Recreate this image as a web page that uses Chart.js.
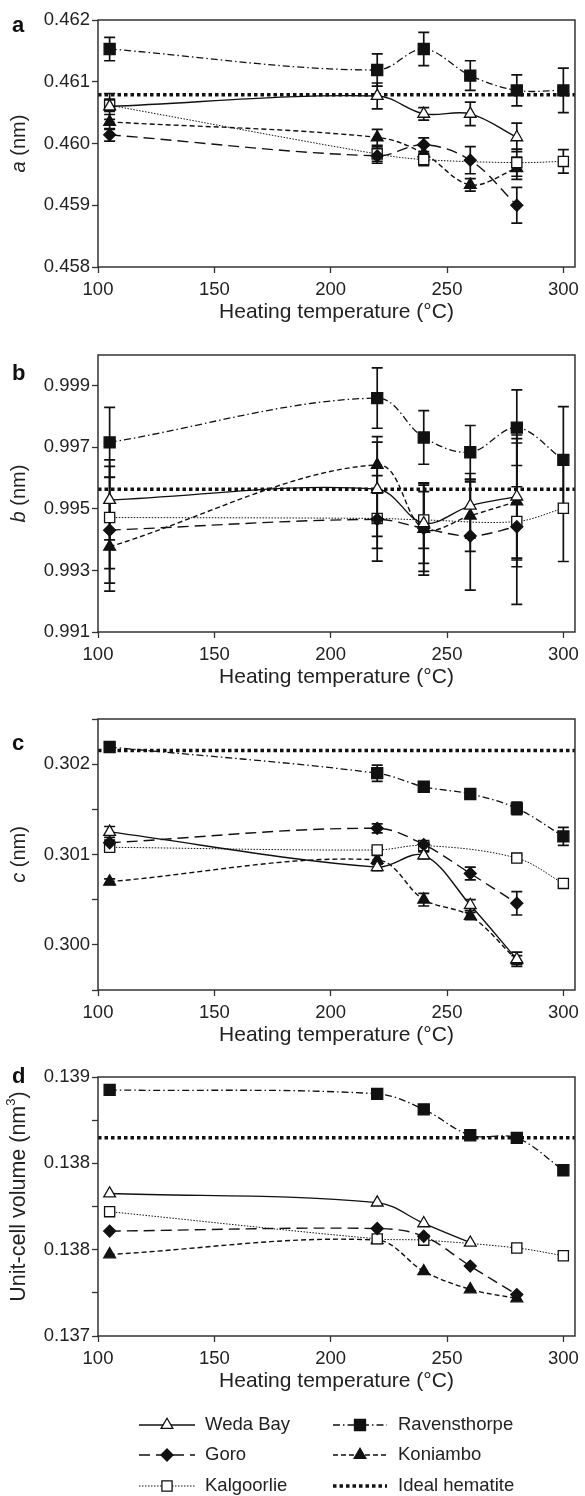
<!DOCTYPE html>
<html>
<head>
<meta charset="utf-8">
<script src="https://cdn.jsdelivr.net/npm/chart.js@4.4.1/dist/chart.umd.min.js"></script>
<style>
  body { margin: 0; background: #fff; }
  #wrap { position: relative; width: 585px; height: 1496px; }
  .panel { position: absolute; left: 0; width: 585px; }
</style>
</head>
<body>
<div id="wrap">
  <div class="panel" style="top:0;height:327px"><canvas id="chartA"></canvas></div>
  <div class="panel" style="top:327px;height:365px"><canvas id="chartB"></canvas></div>
  <div class="panel" style="top:692px;height:358px"><canvas id="chartC"></canvas></div>
  <div class="panel" style="top:1050px;height:446px"><canvas id="chartD"></canvas></div>
</div>
<script>
Chart.defaults.font.family = "'Liberation Sans', Arial, sans-serif";
Chart.defaults.color = '#222';

// x values (heating temperature, °C)
const xMin = 100, xMax = 305;
const xTicks = [100, 150, 200, 250, 300];
const wedaT = [105, 220, 240, 260, 280];
const wedaTVol = [105, 220, 240, 260];
const goroT = [105, 220, 240, 260, 280];
const kalgT = [105, 220, 240, 280, 300];
const ravT = [105, 220, 240, 260, 280, 300];
const koniT = [105, 220, 240, 260, 280];

// a (nm)
const aWeda = [0.46060, 0.46077, 0.46048, 0.46048, 0.46010];
const aWedaErr = [0.00021, 0.00021, 0.00010, 0.00019, 0.00023];
const aGoro = [0.46014, 0.45980, 0.45998, 0.45973, 0.45900];
const aGoroErr = [0.00010, 0.00012, 0.00011, 0.00022, 0.00029];
const aKalg = [0.46062, 0.45983, 0.45974, 0.45969, 0.45971];
const aKalgErr = [0.00010, 0.00012, 0.00010, 0.00022, 0.00019];
const aRav = [0.46153, 0.46119, 0.46153, 0.46110, 0.46086, 0.46086];
const aRavErr = [0.00019, 0.00026, 0.00027, 0.00024, 0.00025, 0.00036];
const aKoni = [0.46035, 0.46010, 0.45984, 0.45933, 0.45960];
const aKoniErr = [0.00012, 0.00013, 0.00012, 0.00010, 0.00018];
const aIdeal = 0.46079;
const aRange = [0.458, 0.462];
const aTicks = [0.458, 0.459, 0.460, 0.461, 0.462];
const aTickLabels = ['0.458', '0.459', '0.460', '0.461', '0.462'];

// b (nm)
const bWeda = [0.99529, 0.99564, 0.99453, 0.99510, 0.99540];
const bWedaErr = [0.00130, 0.00153, 0.00130, 0.00105, 0.00200];
const bGoro = [0.99431, 0.99466, 0.99437, 0.99412, 0.99442];
const bGoroErr = [0.00172, 0.00094, 0.00140, 0.00176, 0.00130];
const bKalg = [0.99472, 0.99469, 0.99464, 0.99459, 0.99502];
const bKalgErr = [0.00166, 0.00139, 0.00092, 0.00269, 0.00173];
const bRav = [0.99716, 0.99860, 0.99732, 0.99684, 0.99764, 0.99659];
const bRavErr = [0.00114, 0.00098, 0.00087, 0.00087, 0.00123, 0.00173];
const bKoni = [0.99377, 0.99643, 0.99435, 0.99478, 0.99524];
const bKoniErr = [0.00144, 0.00092, 0.00150, 0.00116, 0.00190];
const bIdeal = 0.99564;
const bRange = [0.991, 1.000];
const bTicks = [0.991, 0.993, 0.995, 0.997, 0.999];
const bTickLabels = ['0.991', '0.993', '0.995', '0.997', '0.999'];

// c (nm)
const cWeda = [0.30125, 0.30086, 0.30099, 0.30044, 0.29984];
const cWedaErr = [0.00006, 0.00004, 0.00004, 0.00006, 0.00008];
const cGoro = [0.30113, 0.30129, 0.30111, 0.30079, 0.30046];
const cGoroErr = [0.00003, 0.00005, 0.00003, 0.00007, 0.00013];
const cKalg = [0.30108, 0.30105, 0.30110, 0.30096, 0.30068];
const cKalgErr = [0.00003, 0.00003, 0.00003, 0.00003, 0.00003];
const cRav = [0.30219, 0.30190, 0.30175, 0.30167, 0.30151, 0.30120];
const cRavErr = [0.00003, 0.00009, 0.00004, 0.00003, 0.00007, 0.00010];
const cKoni = [0.30070, 0.30094, 0.30050, 0.30032, 0.29983];
const cKoniErr = [0.00003, 0.00005, 0.00007, 0.00004, 0.00005];
const cIdeal = 0.30215;
const cRange = [0.2995, 0.3025];
const cTicks = [0.2995, 0.3000, 0.3005, 0.3010, 0.3015, 0.3020, 0.3025];
const cTickLabels = ['', '0.300', '', '0.301', '', '0.302', ''];

// unit-cell volume (nm3)
const dWeda = [0.13810, 0.13803, 0.13787, 0.13772];
const dGoro = [0.13781, 0.13783, 0.13777, 0.13754, 0.13732];
const dKalg = [0.13796, 0.13775, 0.13774, 0.13768, 0.13762];
const dRav = [0.13890, 0.13887, 0.13875, 0.13855, 0.13853, 0.13828];
const dKoni = [0.13763, 0.13774, 0.13750, 0.13736, 0.13729];
const dIdeal = 0.13853;
const dRange = [0.137, 0.139];
const dTicks = [0.137, 0.1373333, 0.1376667, 0.138, 0.1383333, 0.1386667, 0.139];
const dTickLabels = ['0.137', '', '0.138', '', '0.138', '', '0.139'];

const seriesStyle = {
  weda: { label: 'Weda Bay', dash: [], width: 1.4, pointStyle: 'triangle', radius: 6.8, fill: '#fff' },
  goro: { label: 'Goro', dash: [11, 6], width: 1.4, pointStyle: 'rectRot', radius: 6, fill: '#111' },
  kalg: { label: 'Kalgoorlie', dash: [1.5, 1.5], width: 1, pointStyle: 'rect', radius: 7.2, fill: '#fff' },
  rav: { label: 'Ravensthorpe', dash: [7, 3, 1.5, 3], width: 1.3, pointStyle: 'rect', radius: 7.8, fill: '#111' },
  koni: { label: 'Koniambo', dash: [5, 3], width: 1.4, pointStyle: 'triangle', radius: 6.8, fill: '#111' }
};

function series(key, xs, ys, errs) {
  const s = seriesStyle[key];
  return {
    label: s.label,
    data: xs.map((x, i) => ({ x: x, y: ys[i] })),
    errors: errs || null,
    borderColor: '#111',
    borderWidth: s.width,
    borderDash: s.dash,
    pointStyle: s.pointStyle,
    pointRadius: s.radius,
    pointBackgroundColor: s.fill,
    pointBorderColor: '#111',
    pointBorderWidth: 1.3,
    tension: 0.35,
    fill: false
  };
}

function ideal(y) {
  return {
    label: 'Ideal hematite',
    data: [{ x: xMin, y: y }, { x: xMax, y: y }],
    borderColor: '#111',
    borderWidth: 3.5,
    borderDash: [3.5, 3],
    pointRadius: 0,
    tension: 0,
    fill: false
  };
}

// error bars from dataset.errors, through the chart scales
const errorBars = {
  id: 'errorBars',
  beforeDatasetsDraw(chart) {
    const ctx = chart.ctx, xs = chart.scales.x, ys = chart.scales.y;
    ctx.save();
    ctx.strokeStyle = '#111';
    ctx.lineWidth = 1.7;
    chart.data.datasets.forEach(ds => {
      if (!ds.errors) return;
      ds.data.forEach((p, i) => {
        const e = ds.errors[i];
        const x = xs.getPixelForValue(p.x);
        const y1 = ys.getPixelForValue(p.y + e);
        const y2 = ys.getPixelForValue(p.y - e);
        ctx.beginPath();
        ctx.moveTo(x, y1); ctx.lineTo(x, y2);
        ctx.moveTo(x - 5.5, y1); ctx.lineTo(x + 5.5, y1);
        ctx.moveTo(x - 5.5, y2); ctx.lineTo(x + 5.5, y2);
        ctx.stroke();
      });
    });
    ctx.restore();
  }
};

// frame round the plot area
const frame = {
  id: 'frame',
  afterDatasetsDraw(chart) {
    const a = chart.chartArea, ctx = chart.ctx;
    ctx.save();
    ctx.strokeStyle = '#333';
    ctx.lineWidth = 1.5;
    ctx.strokeRect(a.left, a.top, a.right - a.left, a.bottom - a.top);
    ctx.restore();
  }
};

// panel letter and y title with italic / superscript parts
const panelText = {
  id: 'panelText',
  afterDraw(chart, args, o) {
    const ctx = chart.ctx, a = chart.chartArea;
    const fam = "'Liberation Sans', Arial, sans-serif";
    ctx.save();
    ctx.fillStyle = '#111';
    ctx.font = 'bold 22px ' + fam;
    ctx.textAlign = 'left';
    ctx.textBaseline = 'middle';
    ctx.fillText(o.letter, 12, o.letterY);

    const size = o.size || 20;
    const fonts = o.parts.map(p => (p.italic ? 'italic ' : '') + (p.sup ? 13 : size) + 'px ' + fam);
    let total = 0;
    const widths = o.parts.map((p, i) => { ctx.font = fonts[i]; const w = ctx.measureText(p.text).width; total += w; return w; });
    ctx.translate(19, (a.top + a.bottom) / 2 + (o.shift || 0));
    ctx.rotate(-Math.PI / 2);
    ctx.fillStyle = '#222';
    ctx.textBaseline = 'middle';
    let x = -total / 2;
    o.parts.forEach((p, i) => {
      ctx.font = fonts[i];
      ctx.fillText(p.text, x, p.sup ? -8 : 0);
      x += widths[i];
    });
    ctx.restore();
  }
};

// legend drawn from the datasets' own styles
const bottomLegend = {
  id: 'bottomLegend',
  afterDraw(chart, args, o) {
    if (!o.columns) return;
    const ctx = chart.ctx;
    ctx.save();
    o.columns.forEach(col => {
      col.labels.forEach((lab, r) => {
        const ds = chart.data.datasets.find(d => d.label === lab);
        const y = o.rows[r];
        ctx.strokeStyle = '#111';
        ctx.lineWidth = ds.borderWidth;
        ctx.setLineDash(ds.borderDash || []);
        ctx.beginPath();
        ctx.moveTo(col.x0, y); ctx.lineTo(col.x1, y);
        ctx.stroke();
        ctx.setLineDash([]);
        if (ds.pointRadius > 0) {
          ctx.fillStyle = ds.pointBackgroundColor;
          ctx.strokeStyle = '#111';
          ctx.lineWidth = ds.pointBorderWidth;
          Chart.helpers.drawPoint(ctx, { pointStyle: ds.pointStyle, radius: ds.pointRadius, borderWidth: ds.pointBorderWidth, rotation: 0 }, (col.x0 + col.x1) / 2, y);
        }
        ctx.fillStyle = '#222';
        ctx.font = "18.5px 'Liberation Sans', Arial, sans-serif";
        ctx.textAlign = 'left';
        ctx.textBaseline = 'middle';
        ctx.fillText(lab, col.tx, y);
      });
    });
    ctx.restore();
  }
};

function makeChart(id, cfg) {
  return new Chart(document.getElementById(id), {
    type: 'line',
    data: { datasets: cfg.datasets },
    plugins: [errorBars, frame, panelText, bottomLegend],
    options: {
      responsive: true,
      maintainAspectRatio: false,
      animation: false,
      events: [],
      layout: { padding: { top: cfg.top, left: 0, right: 3, bottom: cfg.bottom } },
      plugins: {
        legend: { display: false },
        tooltip: { enabled: false },
        panelText: { letter: cfg.letter, letterY: cfg.letterY, parts: cfg.parts, size: cfg.titleSize, shift: cfg.titleShift },
        bottomLegend: cfg.legend || {}
      },
      scales: {
        x: {
          type: 'linear',
          min: xMin,
          max: xMax,
          afterBuildTicks: s => { s.ticks = xTicks.map(v => ({ value: v })); },
          afterFit: s => { s.height = 60; },
          ticks: { autoSkip: false, maxRotation: 0, padding: 6, font: { size: 18.5 }, color: '#222', callback: v => String(v) },
          grid: { drawOnChartArea: false, tickLength: 6, tickColor: '#333', tickWidth: 1.3 },
          border: { display: false },
          title: { display: true, text: 'Heating temperature (°C)', font: { size: 21 }, color: '#222', padding: { top: 2, bottom: 2 } }
        },
        y: {
          type: 'linear',
          min: cfg.range[0],
          max: cfg.range[1],
          afterBuildTicks: s => { s.ticks = cfg.yTicks.map(v => ({ value: v })); },
          afterFit: s => { s.width = 98; },
          ticks: { autoSkip: false, padding: 2, font: { size: 18.5 }, color: '#222', callback: (v, i) => cfg.yLabels[i] },
          grid: { drawOnChartArea: false, tickLength: 6, tickColor: '#333', tickWidth: 1.3 },
          border: { display: false }
        }
      }
    }
  });
}

makeChart('chartA', {
  top: 20, bottom: 0, letter: 'a', letterY: 26,
  parts: [{ text: 'a', italic: true }, { text: ' (nm)' }],
  range: aRange, yTicks: aTicks, yLabels: aTickLabels,
  datasets: [
    series('weda', wedaT, aWeda, aWedaErr),
    series('goro', goroT, aGoro, aGoroErr),
    series('kalg', kalgT, aKalg, aKalgErr),
    series('rav', ravT, aRav, aRavErr),
    series('koni', koniT, aKoni, aKoniErr),
    ideal(aIdeal)
  ]
});

makeChart('chartB', {
  top: 28, bottom: 0, letter: 'b', letterY: 47,
  parts: [{ text: 'b', italic: true }, { text: ' (nm)' }],
  range: bRange, yTicks: bTicks, yLabels: bTickLabels,
  datasets: [
    series('weda', wedaT, bWeda, bWedaErr),
    series('goro', goroT, bGoro, bGoroErr),
    series('kalg', kalgT, bKalg, bKalgErr),
    series('rav', ravT, bRav, bRavErr),
    series('koni', koniT, bKoni, bKoniErr),
    ideal(bIdeal)
  ]
});

makeChart('chartC', {
  top: 27, bottom: 0, letter: 'c', letterY: 52,
  parts: [{ text: 'c', italic: true }, { text: ' (nm)' }],
  range: cRange, yTicks: cTicks, yLabels: cTickLabels,
  datasets: [
    series('weda', wedaT, cWeda, cWedaErr),
    series('goro', goroT, cGoro, cGoroErr),
    series('kalg', kalgT, cKalg, cKalgErr),
    series('rav', ravT, cRav, cRavErr),
    series('koni', koniT, cKoni, cKoniErr),
    ideal(cIdeal)
  ]
});

makeChart('chartD', {
  top: 27, bottom: 100, letter: 'd', letterY: 27,
  parts: [{ text: 'Unit-cell volume (nm' }, { text: '3', sup: true }, { text: ')' }],
  titleSize: 21.5, titleShift: -10,
  range: dRange, yTicks: dTicks, yLabels: dTickLabels,
  datasets: [
    series('weda', wedaTVol, dWeda),
    series('goro', goroT, dGoro),
    series('kalg', kalgT, dKalg),
    series('rav', ravT, dRav),
    series('koni', koniT, dKoni),
    ideal(dIdeal)
  ],
  legend: {
    rows: [375, 405, 436],
    columns: [
      { x0: 139, x1: 195, tx: 205, labels: ['Weda Bay', 'Goro', 'Kalgoorlie'] },
      { x0: 333, x1: 387, tx: 398, labels: ['Ravensthorpe', 'Koniambo', 'Ideal hematite'] }
    ]
  }
});
</script>
</body>
</html>
